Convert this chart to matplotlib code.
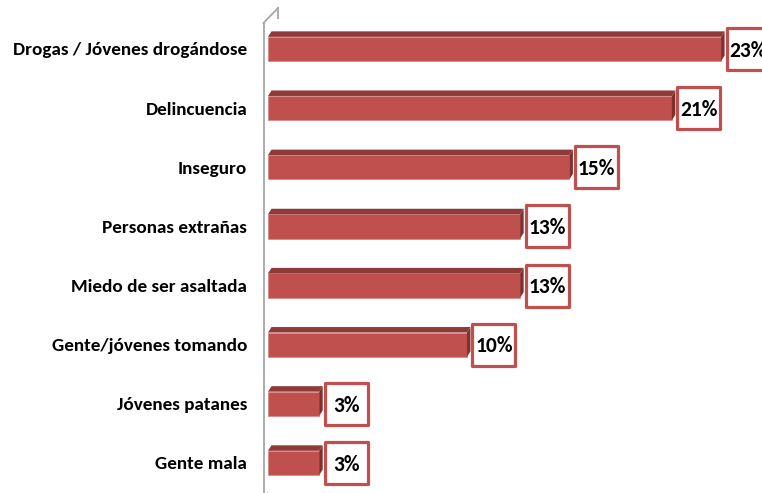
import matplotlib
matplotlib.use('Agg')
import matplotlib.pyplot as plt
from matplotlib.patches import Polygon, Rectangle
from matplotlib.lines import Line2D

# datos
categorias = ['Drogas / Jóvenes drogándose', 'Delincuencia', 'Inseguro',
              'Personas extrañas', 'Miedo de ser asaltada',
              'Gente/jóvenes tomando', 'Jóvenes patanes', 'Gente mala']
valores = [23.0, 20.5, 15.3, 12.8, 12.8, 10.1, 2.6, 2.6]
etiquetas = ['23%', '21%', '15%', '13%', '13%', '10%', '3%', '3%']

plt.rcParams['font.family'] = ['Carlito', 'DejaVu Sans']

W, H = 762, 493
fig = plt.figure(figsize=(W / 100, H / 100), dpi=100)
# ejes en pixeles: x=0 en 268, 19.7 px por punto porcentual
px_x = 19.7
x0 = 268
top_px, bot_px = 19.4, 492.5
ax = fig.add_axes([x0 / W, 1 - bot_px / H, (W - x0) / W, (bot_px - top_px) / H])
ax.set_xlim(0, (W - x0) / px_x)
n = len(categorias)
ax.set_ylim(n - 0.5, -0.5)
px_y = (bot_px - top_px) / n

rojo = '#C0504D'
oscuro = '#8F3A38'
lado = '#7E302E'
alto = 0.41
dx = 3.5 / px_x
dy = 5.5 / px_y

ys = list(range(n))
ax.barh(ys, valores, height=alto, color=rojo, edgecolor='#D98A88', linewidth=0.6, zorder=3)
for y, v, lab in zip(ys, valores, etiquetas):
    t = y - alto / 2
    b = y + alto / 2
    # cara superior
    ax.add_patch(Polygon([(0, t), (dx, t - dy), (v + dx, t - dy), (v, t)],
                         closed=True, color=oscuro, zorder=4, lw=0))
    # cara lateral
    ax.add_patch(Polygon([(v, t), (v + dx, t - dy), (v + dx, b - dy), (v, b)],
                         closed=True, color=lado, zorder=4, lw=0))
    # caja de la etiqueta
    bx = v + dx + 2 / px_x
    bw = 43 / px_x
    bh = 42 / px_y
    ax.add_patch(Rectangle((bx, y - bh / 2), bw, bh, facecolor='white',
                           edgecolor=rojo, linewidth=2.3, joinstyle='round',
                           zorder=5, clip_on=False))
    ax.text(bx + bw / 2, y + 0.03, lab, ha='center', va='center', fontsize=15.5,
            fontweight='bold', color='black', zorder=6, clip_on=False)

ax.set_yticks(ys)
ax.set_yticklabels(categorias, fontsize=13.8, fontweight='bold')
ax.tick_params(axis='y', length=0, pad=15)
ax.set_xticks([])
for s in ax.spines.values():
    s.set_visible(False)

# pared 3D del eje
gris = '#A6A6A6'
def fx(p):
    return p / W
def fy(p):
    return 1 - p / H
for xs, yv in [([263.5, 263.5], [23, 493]), ([263.5, 278], [23, 8]),
               ([278, 278], [8, 483]), ([278, 268], [483, 493])]:
    fig.add_artist(Line2D([fx(a) for a in xs], [fy(b) for b in yv],
                          color=gris, lw=1.3, zorder=0))

fig.savefig('out.png', dpi=100)
